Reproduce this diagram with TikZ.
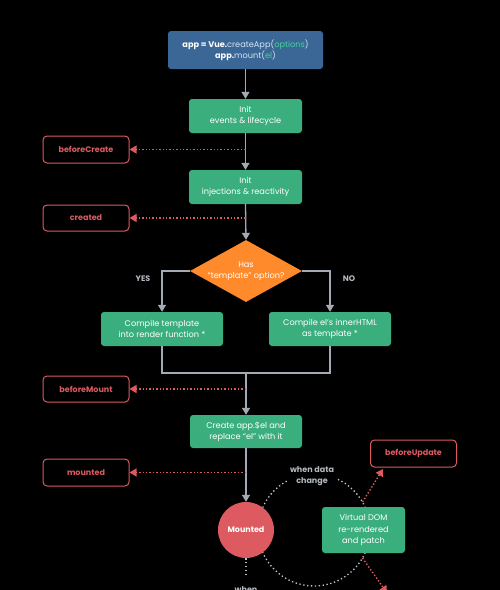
\documentclass[tikz,border=0pt]{standalone}
\usepackage{fontspec}
\setmainfont{Poppins}
\usetikzlibrary{shapes.geometric,arrows.meta}
\definecolor{vgreen}{HTML}{3BAE7E}
\definecolor{vblue}{HTML}{3A6796}
\definecolor{vorange}{HTML}{FF8A2B}
\definecolor{hred}{HTML}{DC5A60}
\definecolor{lgray}{HTML}{A3AAB3}
\definecolor{tgray}{HTML}{B5BAC2}
\definecolor{lblue}{HTML}{D5E6F5}
\definecolor{cgreen}{HTML}{45D39A}
\begin{document}
\begin{tikzpicture}[x=1pt,y=-1pt,
  font=\fontsize{8.2}{11.2}\selectfont,
  proc/.style={rectangle, rounded corners=3pt, fill=vgreen, text=white, align=center, inner sep=1pt},
  hook/.style={rectangle, draw=hred, line width=1pt, rounded corners=4pt, text=hred,
     font=\fontsize{8}{11}\selectfont\bfseries, minimum width=86pt, minimum height=27pt},
  flow/.style={draw=lgray, line width=1.3pt, -{Triangle[width=8pt,length=7pt]}},
  plain/.style={draw=lgray, line width=1.3pt},
  hookline/.style={draw=hred, line width=1.4pt, dash pattern=on 1.4pt off 2pt, -{Triangle[width=8pt,length=7pt]}},
  loopline/.style={draw=tgray!85, line width=1.3pt, dash pattern=on 1.3pt off 2.6pt},
  lbl/.style={text=tgray, font=\fontsize{8}{10.5}\selectfont\bfseries, align=center}
]
\useasboundingbox (0,0) rectangle (500,590);
\fill[black] (0,0) rectangle (500,590);

% update loop
\draw[loopline] (314,530) circle[radius=56];
\node[lbl, fill=black, inner sep=3pt] (wdc) at (312,476) {when data\\change};

% nodes
\node[rectangle, rounded corners=3pt, fill=vblue, text=white, align=center,
  minimum width=155pt, minimum height=38pt] (top) at (245.5,50)
  {\textbf{app = Vue.}\textcolor{lblue}{createApp(}\textcolor{cgreen}{options}\textcolor{lblue}{)}\\
   \textbf{app.}\textcolor{lblue}{mount(}\textcolor{cgreen}{el}\textcolor{lblue}{)}};
\node[proc, minimum width=113pt, minimum height=34pt] (init1) at (245.5,116) {Init\\events \& lifecycle};
\node[hook] (bc) at (86,149.5) {beforeCreate};
\node[proc, minimum width=113pt, minimum height=34pt] (init2) at (245.5,187) {Init\\injections \& reactivity};
\node[hook, minimum height=26pt] (cr) at (86,218) {created};
\node[diamond, fill=vorange, text=white, align=center, inner sep=0pt, aspect=1.8,
  minimum width=112pt, minimum height=62pt] (dec) at (246,271) {Has\\“template” option?};
\node[proc, minimum width=122pt, minimum height=34pt] (yes) at (162,329) {Compile template\\into render function *};
\node[proc, minimum width=122pt, minimum height=34pt] (no) at (330,329) {Compile el’s innerHTML\\as template *};
\node[hook, minimum height=26pt] (bm) at (86,389) {beforeMount};
\node[proc, minimum width=112pt, minimum height=33pt] (create) at (246,431.5) {Create app.\$el and\\replace “el” with it};
\node[hook] (mt) at (86,472.5) {mounted};
\node[circle, fill=hred, text=white, minimum size=56pt, inner sep=0pt,
  font=\fontsize{8}{11}\selectfont\bfseries] (mounted) at (246,530) {Mounted};
\node[proc, minimum width=83pt, minimum height=46pt] (vdom) at (363.5,530) {Virtual DOM\\re-rendered\\and patch};
\node[hook] (bu) at (413.5,453.5) {beforeUpdate};

\node[lbl] (yeslbl) at (143,279) {YES};
\node[lbl] (nolbl) at (349,279) {NO};
\node[lbl, anchor=base] (when) at (246,592.5) {when};

% coordinates
\coordinate (j1) at (245.5,149.5);
\coordinate (j2) at (245.5,218);
\coordinate (m) at (246,373);
\coordinate (j3) at (246,389);
\coordinate (j4) at (246,472.5);
\coordinate (u1) at (362.5,502);
\coordinate (u2) at (383,469);
\coordinate (d1) at (362.5,558);
\coordinate (d2) at (387,593);
\coordinate (w1) at (246,577);

% connectors
\draw[flow] (top.south) -- (init1.north);
\draw[flow] (init1.south) -- (init2.north);
\draw[flow] (init2.south) -- (dec.north);
\draw[hookline] (j1) -- (bc.east);
\draw[hookline] (j2) -- (cr.east);
\draw[flow] (dec.west) -| (yes.north);
\draw[flow] (dec.east) -| (no.north);
\draw[plain] (yes.south) |- (m) -| (no.south);
\draw[flow] (m) -- (create.north);
\draw[hookline] (j3) -- (bm.east);
\draw[flow] (create.south) -- (mounted.north);
\draw[hookline] (j4) -- (mt.east);
\draw[loopline] (mounted.south) -- (w1);
\draw[hookline] (u1) -- (u2);
\draw[hookline] (d1) -- (d2);
\end{tikzpicture}
\end{document}
